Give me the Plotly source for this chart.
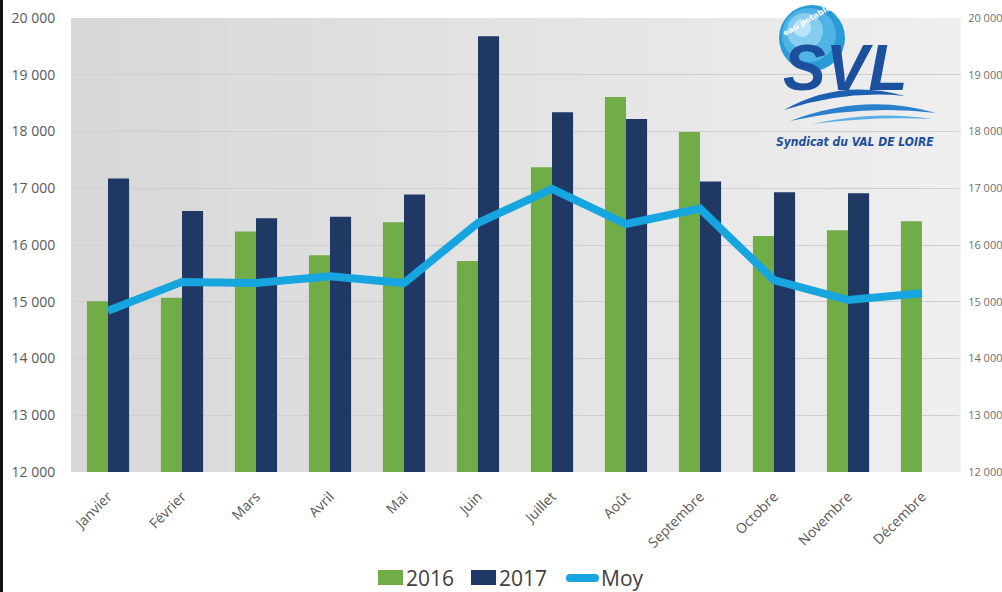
import plotly.graph_objects as go

months = ["Janvier", "Février", "Mars", "Avril", "Mai", "Juin", "Juillet",
          "Août", "Septembre", "Octobre", "Novembre", "Décembre"]
v2016 = [15010, 15070, 16240, 15820, 16400, 15720, 17370, 18610, 17990, 16160, 16260, 16420]
v2017 = [17170, 16600, 16470, 16500, 16890, 19680, 18340, 18220, 17120, 16930, 16910, None]
moy = [14840, 15350, 15330, 15450, 15330, 16390, 16990, 16370, 16640, 15380, 15030, 15150]
tick_vals = [12000, 13000, 14000, 15000, 16000, 17000, 18000, 19000, 20000]
tick_text = ["12 000", "13 000", "14 000", "15 000", "16 000", "17 000", "18 000", "19 000", "20 000"]
legend_names = ["2016", "2017", "Moy"]

C2016, C2017, CMOY = "#70ad47", "#1f3864", "#17a5e0"

W, H = 1002, 592
L, R, T, B = 71, 43, 18, 120
PW, PH = W - L - R, H - T - B


def px(x):
    return (x - L) / PW


def py(y):
    return (H - B - y) / PH


fig = go.Figure()
fig.add_trace(go.Bar(name=legend_names[0], x=months, y=v2016, marker_color=C2016,
                     marker_line_width=0))
fig.add_trace(go.Bar(name=legend_names[1], x=months, y=v2017, marker_color=C2017,
                     marker_line_width=0))
fig.add_trace(go.Scatter(name=legend_names[2], x=months, y=moy, mode="lines",
                         line=dict(color=CMOY, width=8)))
# invisible trace for the right axis
fig.add_trace(go.Scatter(x=months, y=moy, yaxis="y2", mode="lines",
                         line=dict(width=0), showlegend=False, hoverinfo="skip"))

shapes = []
# gradient-like plot background
n = 40
c0, c1 = 0xd8, 0xef
for i in range(n):
    c = int(c0 + (c1 - c0) * i / (n - 1))
    col = f"rgb({c},{c},{c})"
    shapes.append(dict(type="rect", xref="paper", yref="paper",
                       x0=i / n, x1=(i + 1) / n + 0.002, y0=0, y1=1,
                       fillcolor=col, line_width=0, layer="below"))
# left black border of the picture
shapes.append(dict(type="rect", xref="paper", yref="paper",
                   x0=px(0), x1=px(3), y0=py(H), y1=py(0),
                   fillcolor="#111111", line_width=0, layer="above"))

# logo: circle
for r, col, dx, dy in [(33, "#2a9bd6", 0, 0), (27, "#4fb4e4", -3, -3),
                       (18, "#86cdef", -7, -7), (9, "#b9e4f7", -10, -10)]:
    cx, cy = 812 + dx, 38 + dy
    shapes.append(dict(type="circle", xref="paper", yref="paper",
                       x0=px(cx - r), x1=px(cx + r), y0=py(cy + r), y1=py(cy - r),
                       fillcolor=col, line_width=0, layer="above"))


def path(points_px):
    s = ""
    for cmd, pts in points_px:
        s += cmd + " " + " ".join(f"{px(a):.5f},{py(b):.5f}" for a, b in pts) + " "
    return s + "Z"


# waves
shapes.append(dict(type="path", xref="paper", yref="paper", layer="above",
                   path=path([("M", [(784, 110)]),
                              ("Q", [(840, 78), (905, 96)]),
                              ("Q", [(845, 90), (784, 110)])]),
                   fillcolor="#1d5fb0", line_width=0))
shapes.append(dict(type="path", xref="paper", yref="paper", layer="above",
                   path=path([("M", [(790, 121)]),
                              ("Q", [(865, 92), (936, 113)]),
                              ("Q", [(865, 104), (790, 121)])]),
                   fillcolor="#2a80cc", line_width=0))
shapes.append(dict(type="path", xref="paper", yref="paper", layer="above",
                   path=path([("M", [(812, 124)]),
                              ("Q", [(875, 110), (932, 119)]),
                              ("Q", [(875, 116), (812, 124)])]),
                   fillcolor="#5aaee6", line_width=0))

# custom legend
LY = 578
shapes.append(dict(type="rect", xref="paper", yref="paper", layer="above",
                   x0=px(378), x1=px(403), y0=py(585), y1=py(570),
                   fillcolor=C2016, line_width=0))
shapes.append(dict(type="rect", xref="paper", yref="paper", layer="above",
                   x0=px(471), x1=px(496), y0=py(585), y1=py(570),
                   fillcolor=C2017, line_width=0))
shapes.append(dict(type="line", xref="paper", yref="paper", layer="above",
                   x0=px(570), x1=px(595), y0=py(LY), y1=py(LY),
                   line=dict(color=CMOY, width=8)))
for cx in (566, 591):
    shapes.append(dict(type="circle", xref="paper", yref="paper", layer="above",
                       x0=px(cx), x1=px(cx + 8), y0=py(LY + 4), y1=py(LY - 4),
                       fillcolor=CMOY, line_width=0))

annotations = [
    dict(text="<b>eau potable</b>", xref="paper", yref="paper",
         x=px(807), y=py(20), xanchor="center", yanchor="middle", showarrow=False,
         textangle=-30, font=dict(family="DejaVu Sans", size=8, color="white")),
    dict(text="<b><i>SVL</i></b>", xref="paper", yref="paper",
         x=px(845), y=py(68), xanchor="center", yanchor="middle", showarrow=False,
         font=dict(family="Liberation Sans", size=64, color="#1c4f9c")),
    dict(text="<b><i>Syndicat du VAL DE LOIRE</i></b>", xref="paper", yref="paper",
         x=px(855), y=py(142), xanchor="center", yanchor="middle", showarrow=False,
         font=dict(family="DejaVu Sans Condensed", size=12, color="#1c4f9c")),
]
for name, x0 in zip(legend_names, (404, 497, 599)):
    annotations.append(dict(text=name, xref="paper", yref="paper", x=px(x0), y=py(LY),
                            xanchor="left", yanchor="middle", showarrow=False,
                            font=dict(family="Open Sans", size=21, color="#404040")))

fig.update_layout(
    width=W, height=H,
    margin=dict(l=L, r=R, t=T, b=B, pad=0, autoexpand=False),
    paper_bgcolor="white",
    plot_bgcolor="rgba(0,0,0,0)",
    barmode="group", bargap=0.43, bargroupgap=0,
    font=dict(family="Open Sans", color="#595959"),
    shapes=shapes, annotations=annotations,
    showlegend=False,
    xaxis=dict(tickangle=-45, tickfont=dict(size=14, color="#595959"),
               showgrid=False, showline=False, ticks="outside", ticklen=10,
               tickcolor="rgba(0,0,0,0)", automargin=False),
    yaxis=dict(range=[12000, 20000], tickvals=tick_vals, ticktext=tick_text,
               showgrid=True, gridcolor="#cfcfcf", gridwidth=1, zeroline=False,
               ticks="outside", ticklen=12, tickcolor="rgba(0,0,0,0)",
               tickfont=dict(size=14, color="#595959"), automargin=False),
    yaxis2=dict(range=[12000, 20000], tickvals=tick_vals, ticktext=tick_text,
                overlaying="y", side="right", showgrid=False, zeroline=False,
                ticks="outside", ticklen=6, tickcolor="rgba(0,0,0,0)",
                tickfont=dict(size=11, color="#6f6f6f"), automargin=False),
)

fig.write_html("out.html", config={"displayModeBar": False},
               post_script="document.body.style.margin='0';document.body.style.overflow='hidden';")
